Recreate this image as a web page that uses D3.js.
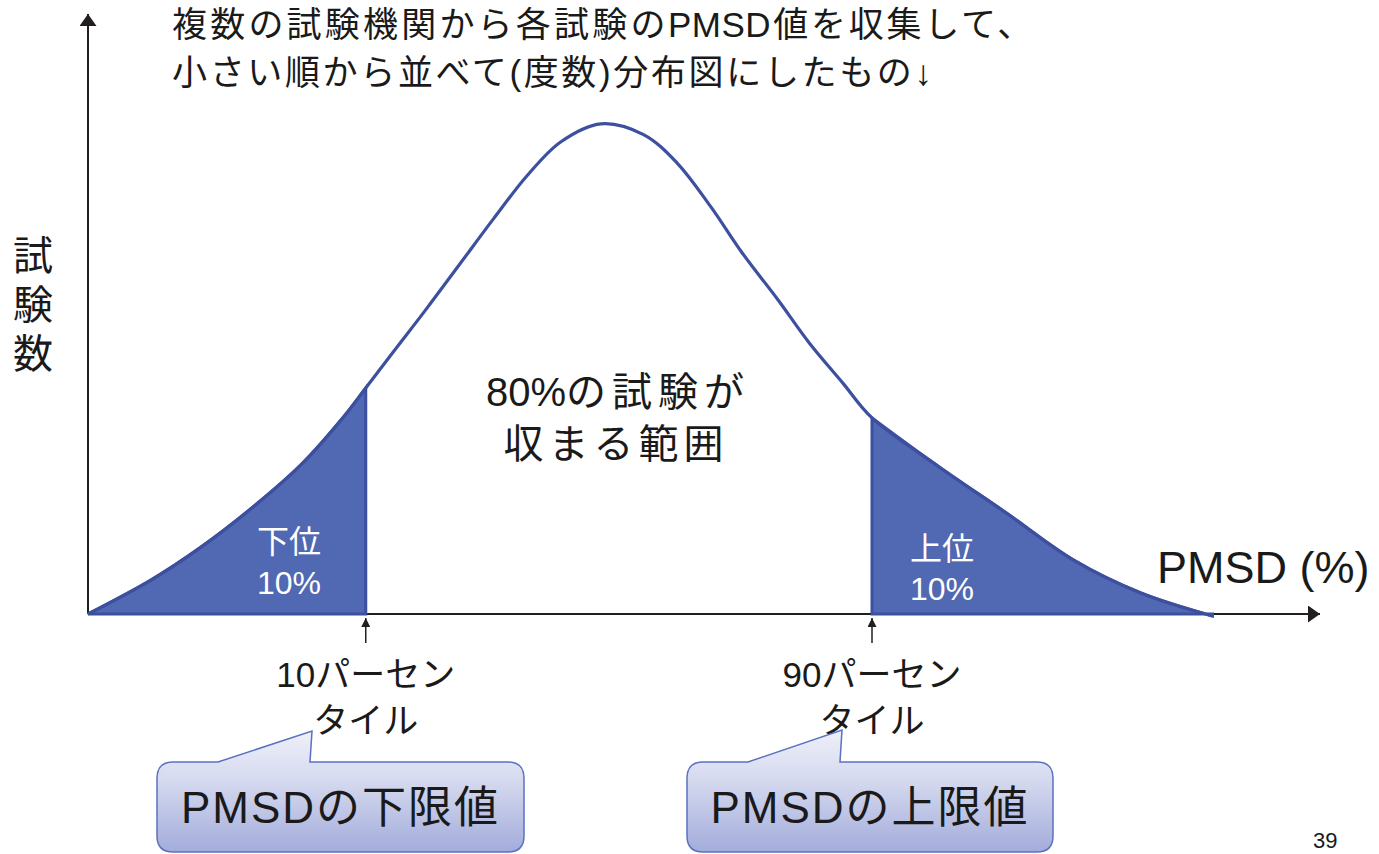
<!DOCTYPE html>
<html>
<head>
<meta charset="utf-8">
<script src="https://cdn.jsdelivr.net/npm/d3@7/dist/d3.min.js"></script>
<style>
  html, body { margin: 0; padding: 0; background: #ffffff; }
  svg { display: block; }
  text { font-family: "Liberation Sans", Arial, "Noto Sans CJK JP", sans-serif; }
</style>
</head>
<body>
<svg id="chart" width="1379" height="854"></svg>
<script>
// ---- data ----
const pmsd  = [0, 2.8, 5.0, 7.2, 9.5, 11.3, 12.4, 13.6, 15.1, 16.6, 18.1, 19.6, 21.1, 22.9, 24.8, 26.3, 27.8, 29.2, 30.8, 32.2, 33.7, 35.0, 38.0, 41.0, 44.0, 47.0, 50.2];
const tests = [0, 6.9, 13.5, 21.2, 30.4, 39.6, 46.1, 53.3, 62.2, 71.4, 80.6, 89.4, 96.3, 100, 97.8, 92.0, 83.1, 73.7, 64.1, 55.3, 47.1, 40.0, 30.0, 20.6, 11.0, 4.3, -0.4];
const p10 = 12.4;
const p90 = 35.0;
const titleLine1 = ["複数の試験機関から各試験の", "PMSD", "値を収集して、"];
const titleLine2 = "小さい順から並べて(度数)分布図にしたもの↓";
const yLabel = ["試", "験", "数"];
const xLabel = "PMSD (%)";
const centerLabel1 = ["80%", "の試験が"];
const centerLabel2 = "収まる範囲";
const lowTailLabel = ["下位", "10%"];
const highTailLabel = ["上位", "10%"];
const lowPctLabel = ["10パーセン", "タイル"];
const highPctLabel = ["90パーセン", "タイル"];
const calloutLabels = ["PMSDの下限値", "PMSDの上限値"];
const pageNumber = "39";

const data = pmsd.map((v, i) => ({x: v, y: tests[i]}));

const svg = d3.select("#chart");
const x = d3.scaleLinear().domain([0, 55]).range([88, 1320]);
const y = d3.scaleLinear().domain([0, 122.4]).range([614, 14]);

const defs = svg.append("defs");
function marker(id, w, h, color) {
  defs.append("marker")
    .attr("id", id).attr("viewBox", `0 0 ${w} ${h}`)
    .attr("refX", w).attr("refY", h / 2)
    .attr("markerWidth", w).attr("markerHeight", h)
    .attr("markerUnits", "userSpaceOnUse")
    .attr("orient", "auto-start-reverse")
    .append("path").attr("d", `M0,0L${w},${h/2}L0,${h}Z`).attr("fill", color);
}
marker("axisArrow", 12, 17, "#231f20");
marker("smallArrow", 9, 9, "#231f20");
marker("bigArrow", 18, 18, "#1a1a1a");

const grad = defs.append("linearGradient").attr("id", "calloutGrad")
  .attr("x1", 0).attr("y1", 0).attr("x2", 0).attr("y2", 1);
grad.append("stop").attr("offset", "0%").attr("stop-color", "#eef0f9");
grad.append("stop").attr("offset", "40%").attr("stop-color", "#d6daef");
grad.append("stop").attr("offset", "100%").attr("stop-color", "#a3acdb");

const sh = defs.append("filter").attr("id", "shadow").attr("x", "-10%").attr("y", "-50%").attr("width", "120%").attr("height", "200%");
sh.append("feDropShadow").attr("dx", 1).attr("dy", 2).attr("stdDeviation", 1.5).attr("flood-color", "#000").attr("flood-opacity", 0.35);

// ---- axes ----
const [x0, x1] = x.range();
const [yb, yt] = y.range();
svg.append("line").attr("x1", x0).attr("y1", yb).attr("x2", x1).attr("y2", yb)
  .attr("stroke", "#231f20").attr("stroke-width", 2).attr("marker-end", "url(#axisArrow)");
svg.append("line").attr("x1", x0).attr("y1", yb).attr("x2", x0).attr("y2", yt)
  .attr("stroke", "#231f20").attr("stroke-width", 2).attr("marker-end", "url(#axisArrow)");

// ---- tails ----
const crv = d3.curveCatmullRom.alpha(0.5);
const area = d3.area().x(d => x(d.x)).y0(y(0)).y1(d => y(d.y)).curve(crv);
const line = d3.line().x(d => x(d.x)).y(d => y(d.y)).curve(crv);
const fillC = "#5168b2", strokeC = "#3d4f9f";
svg.append("path").datum(data.filter(d => d.x <= p10)).attr("d", area)
  .attr("fill", fillC).attr("stroke", strokeC).attr("stroke-width", 3).attr("stroke-linejoin", "miter");
svg.append("path").datum(data.filter(d => d.x >= p90)).attr("d", area)
  .attr("fill", fillC).attr("stroke", strokeC).attr("stroke-width", 3).attr("stroke-linejoin", "miter");

// ---- curve ----
svg.append("path").datum(data).attr("d", line)
  .attr("fill", "none").attr("stroke", strokeC).attr("stroke-width", 3.2);

// ---- double arrow (80% range) ----
svg.append("line")
  .attr("x1", x(p10) + 6).attr("x2", x(p90) - 5)
  .attr("y1", 516).attr("y2", 516)
  .attr("stroke", "#1a1a1a").attr("stroke-width", 3.5)
  .attr("marker-start", "url(#bigArrow)").attr("marker-end", "url(#bigArrow)")
  .attr("filter", "url(#shadow)");

// ---- percentile markers ----
[p10, p90].forEach(p => {
  svg.append("line").attr("x1", x(p)).attr("x2", x(p)).attr("y1", 643).attr("y2", 618)
    .attr("stroke", "#231f20").attr("stroke-width", 1.5).attr("marker-end", "url(#smallArrow)");
});

// ---- texts ----
function txt(str, xx, yy, size, opts = {}) {
  const t = svg.append("text").attr("x", xx).attr("y", yy).attr("font-size", size)
    .attr("fill", opts.fill || "#1a1a1a").attr("text-anchor", opts.anchor || "start").text(str);
  if (opts.len) t.attr("textLength", opts.len).attr("lengthAdjust", "spacing");
  if (opts.ls) t.attr("letter-spacing", opts.ls);
  return t;
}
// title line 1 with narrower latin part
const t1 = svg.append("text").attr("y", 37).attr("fill", "#1a1a1a");
t1.append("tspan").attr("x", 172).attr("font-size", 35).attr("letter-spacing", 3.2).text(titleLine1[0]);
t1.append("tspan").attr("x", 668).attr("font-size", 35)
  .style("font-family", "'Liberation Sans Narrow', 'Liberation Sans', Arial, sans-serif")
  .attr("letter-spacing", 0.5).text(titleLine1[1]);
t1.append("tspan").attr("dx", 2).attr("font-size", 35).attr("letter-spacing", 2.8).text(titleLine1[2]);
txt(titleLine2, 172, 85, 35, {len: 760});

yLabel.forEach((c, i) => txt(c, 33, 270 + i * 49, 40, {anchor: "middle"}));
txt(xLabel, 1157, 583, 45);

const c1 = svg.append("text").attr("x", 618).attr("y", 406).attr("font-size", 40)
  .attr("text-anchor", "middle").attr("fill", "#1a1a1a");
c1.append("tspan").text(centerLabel1[0]);
c1.append("tspan").attr("letter-spacing", 6).text(centerLabel1[1]);
txt(centerLabel2, 616, 458, 40, {anchor: "middle", ls: 5});

lowTailLabel.forEach((c, i) => txt(c, 289, 553 + i * 41, 32, {anchor: "middle", fill: "#ffffff"}));
highTailLabel.forEach((c, i) => txt(c, 942, 560 + i * 40, 32, {anchor: "middle", fill: "#ffffff"}));

lowPctLabel.forEach((c, i) => txt(c, x(p10), 687 + i * 46, 35, {anchor: "middle"}));
highPctLabel.forEach((c, i) => txt(c, x(p90), 687 + i * 46, 35, {anchor: "middle"}));

// ---- callouts ----
function callout(bx0, bx1, by0, by1, tb0, tb1, tx, ty, label) {
  const r = 16;
  const d = `M${bx0 + r},${by0}L${tb0},${by0}L${tx},${ty}L${tb1},${by0}L${bx1 - r},${by0}` +
    `Q${bx1},${by0} ${bx1},${by0 + r}L${bx1},${by1 - r}Q${bx1},${by1} ${bx1 - r},${by1}` +
    `L${bx0 + r},${by1}Q${bx0},${by1} ${bx0},${by1 - r}L${bx0},${by0 + r}Q${bx0},${by0} ${bx0 + r},${by0}Z`;
  svg.append("path").attr("d", d).attr("fill", "url(#calloutGrad)")
    .attr("stroke", "#5a72c0").attr("stroke-width", 1.5);
  txt(label, (bx0 + bx1) / 2, 823, 44, {anchor: "middle", ls: 2});
}
callout(157, 524, 762, 852, 218, 310, 312, 731, calloutLabels[0]);
callout(687, 1053, 762, 852, 748, 840, 842, 730, calloutLabels[1]);

txt(pageNumber, 1313, 848, 22);
</script>
</body>
</html>
